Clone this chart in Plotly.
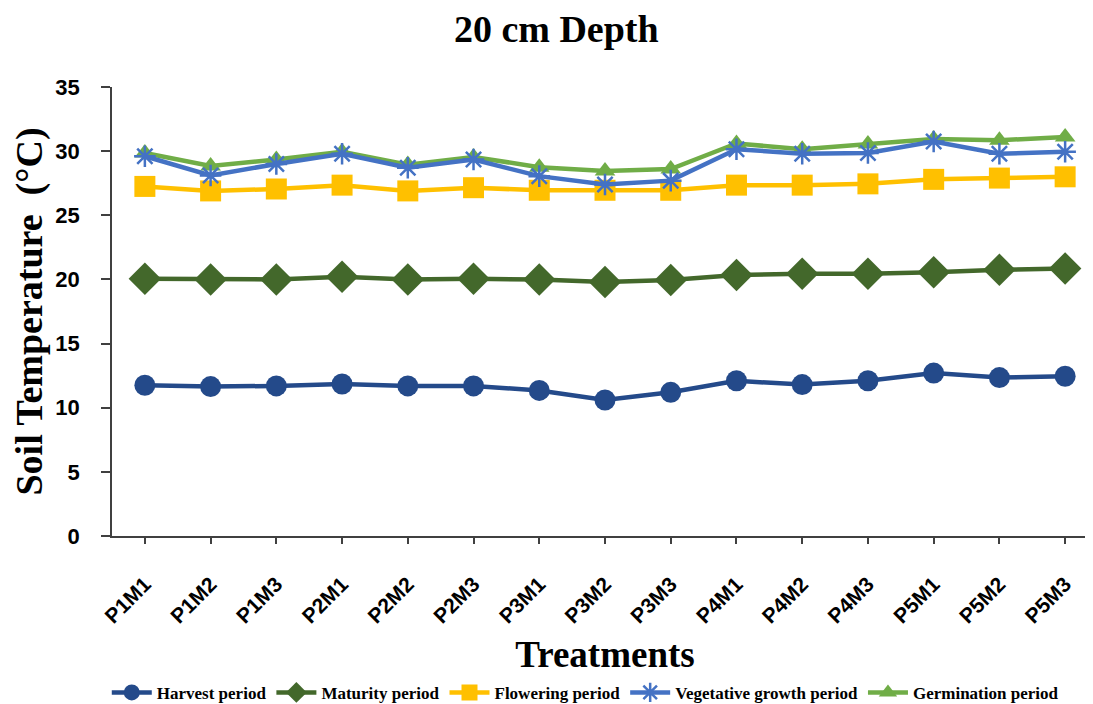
import plotly.graph_objects as go

treatments = ["P1M1", "P1M2", "P1M3", "P2M1", "P2M2", "P2M3", "P3M1", "P3M2",
              "P3M3", "P4M1", "P4M2", "P4M3", "P5M1", "P5M2", "P5M3"]

harvest = [11.75, 11.65, 11.7, 11.85, 11.7, 11.7, 11.35, 10.6, 11.2, 12.1, 11.8, 12.1, 12.7, 12.35, 12.45]
maturity = [20.05, 20.0, 20.0, 20.2, 20.0, 20.05, 20.0, 19.8, 19.95, 20.35, 20.45, 20.45, 20.55, 20.75, 20.85]
flowering = [27.25, 26.9, 27.05, 27.35, 26.9, 27.15, 26.95, 26.95, 26.95, 27.35, 27.35, 27.45, 27.8, 27.9, 28.0]
vegetative = [29.6, 28.1, 29.0, 29.8, 28.7, 29.35, 28.05, 27.4, 27.7, 30.15, 29.8, 29.85, 30.75, 29.8, 29.95]
germination = [29.85, 28.85, 29.35, 29.95, 28.95, 29.55, 28.75, 28.45, 28.6, 30.6, 30.15, 30.55, 30.95, 30.85, 31.1]

series = [
    # name, values, color, symbol, size, legendrank
    ("Germination period", germination, "#70AD47", "triangle-up", 18, 5),
    ("Harvest period", harvest, "#244A8A", "circle", 21, 1),
    ("Maturity period", maturity, "#43682B", "diamond", 25, 2),
    ("Flowering period", flowering, "#FFC000", "square", 21, 3),
    ("Vegetative growth period", vegetative, "#4472C4", "asterisk-open", 18, 4),
]

fig = go.Figure()
for name, vals, color, sym, size, rank in series:
    marker = dict(symbol=sym, size=size, color=color)
    if sym == "asterisk-open":
        marker["line"] = dict(color=color, width=2.5)
    else:
        marker["line"] = dict(width=0)
    fig.add_trace(go.Scatter(
        x=treatments, y=vals, name=name, mode="lines+markers",
        line=dict(color=color, width=4.5), marker=marker, legendrank=rank,
    ))

serif = "Liberation Serif"
sans = "Liberation Sans"

fig.update_layout(
    width=1090, height=696,
    margin=dict(l=104, r=0, t=79, b=168),
    paper_bgcolor="white", plot_bgcolor="white",
    title=dict(text="20 cm Depth", x=0.503, xanchor="center", y=0.97, yanchor="middle",
               font=dict(family=serif, size=38, color="black", weight="bold")),
    xaxis=dict(
        type="category", range=[-0.5, 14.5],
        showline=True, linecolor="#404040", linewidth=1.5,
        ticks="outside", ticklen=6, tickcolor="#404040", tickwidth=1.5,
        tickangle=-45, ticklabelstandoff=20,
        tickfont=dict(family=sans, size=21, color="black", weight="bold"),
        showgrid=False, zeroline=False,
        title=dict(text="Treatments", standoff=21,
                   font=dict(family=serif, size=37, color="black", weight="bold")),
    ),
    yaxis=dict(
        range=[0, 35], dtick=5,
        showline=True, linecolor="#404040", linewidth=1.5,
        ticks="outside", ticklen=9, tickcolor="#404040", tickwidth=1.5,
        ticklabelstandoff=17,
        tickfont=dict(family=sans, size=22, color="black", weight="bold"),
        showgrid=False, zeroline=False,
        title=dict(text="Soil Temperature  (°C)", standoff=6,
                   font=dict(family=serif, size=38, color="black", weight="bold")),
    ),
    legend=dict(
        orientation="h", x=0.48, xanchor="center",
        yref="container", y=0.016, yanchor="middle",
        font=dict(family=serif, size=17, color="black", weight="bold"),
        itemwidth=40, tracegroupgap=0,
    ),
    showlegend=True,
)

fig.write_html("out.html")
